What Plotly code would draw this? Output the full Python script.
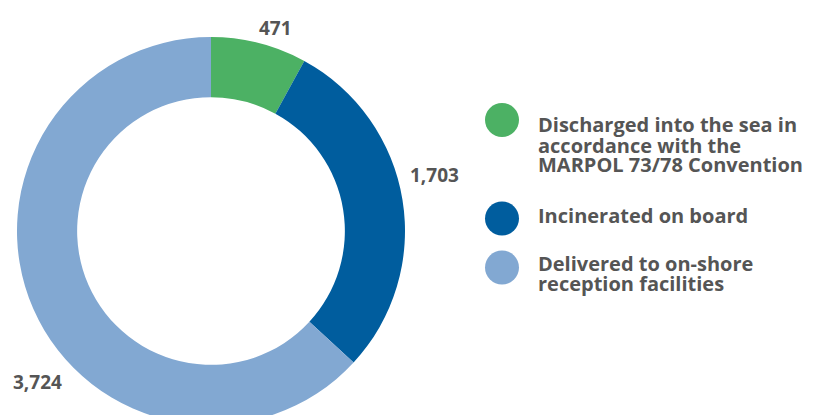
import plotly.graph_objects as go

# ---- data ----
categories = [
    "Discharged into the sea in accordance with the MARPOL 73/78 Convention",
    "Incinerated on board",
    "Delivered to on-shore reception facilities",
]
legend_lines = [
    ["Discharged into the sea in", "accordance with the", "MARPOL 73/78 Convention"],
    ["Incinerated on board"],
    ["Delivered to on-shore", "reception facilities"],
]
values = [471, 1703, 3724]
value_labels = ["471", "1,703", "3,724"]
colors = ["#4cb164", "#005d9e", "#82a8d2"]

W, H = 815, 425
TEXT = "#555555"
FONT = "Open Sans"


def px(x):
    return x / W


def py(y):
    return (H - y) / H


fig = go.Figure()
fig.add_trace(go.Pie(
    labels=categories,
    values=values,
    marker=dict(colors=colors, line=dict(width=0)),
    hole=0.69,
    sort=False,
    direction="clockwise",
    rotation=0,
    textinfo="none",
    hoverinfo="label+value",
    showlegend=False,
    domain=dict(x=[px(17), px(405)], y=[0, py(37)]),
))

annotations = []
# value labels
label_pos = [(275, 28), (434, 175), (37, 382)]
for (x, y), t in zip(label_pos, value_labels):
    annotations.append(dict(
        x=px(x), y=py(y), xref="paper", yref="paper", text=t, showarrow=False,
        xanchor="center", yanchor="middle",
        font=dict(family=FONT, size=19, color=TEXT, weight="bold"),
    ))

# legend
shapes = []
circle_y = [120, 218.5, 267.5]
first_line_y = [125, 215.5, 263.5]
for i, lines in enumerate(legend_lines):
    cy = circle_y[i]
    r = 17
    shapes.append(dict(
        type="circle", xref="paper", yref="paper",
        x0=px(502 - r), x1=px(502 + r), y0=py(cy + r), y1=py(cy - r),
        fillcolor=colors[i], line=dict(width=0),
    ))
    for j, line in enumerate(lines):
        annotations.append(dict(
            x=px(536), y=py(first_line_y[i] + 20 * j), xref="paper", yref="paper",
            text=line, showarrow=False, xanchor="left", yanchor="middle",
            font=dict(family=FONT, size=20, color=TEXT, weight="bold"),
        ))

fig.update_layout(
    width=W, height=H,
    margin=dict(l=0, r=0, t=0, b=0),
    paper_bgcolor="white", plot_bgcolor="white",
    annotations=annotations, shapes=shapes,
)

fig.write_html(
    "out.html",
    config={"displayModeBar": False},
    post_script="document.body.style.margin='0';document.body.style.overflow='hidden';document.documentElement.style.overflow='hidden';",
)
